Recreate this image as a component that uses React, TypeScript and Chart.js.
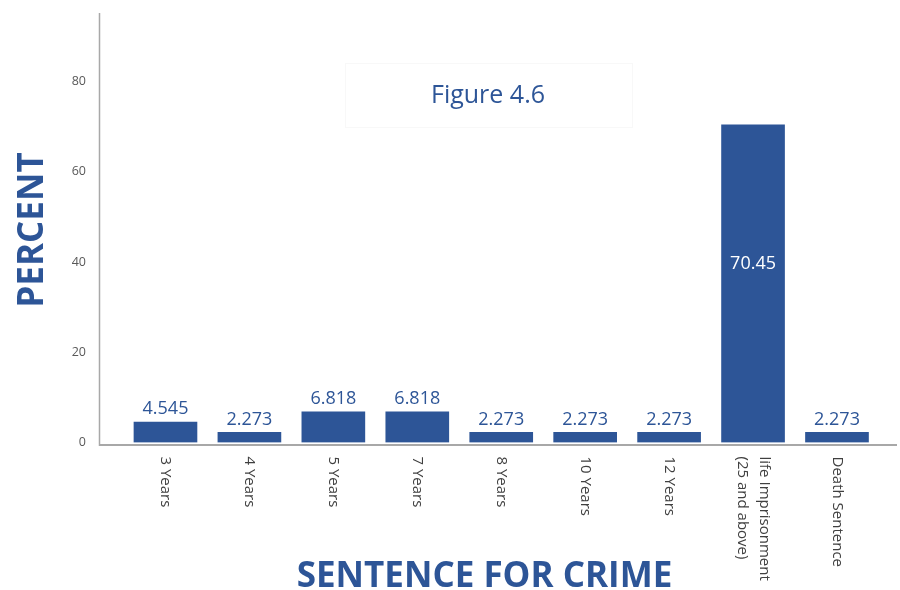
import React, { useEffect, useRef } from "react";
import { Chart, registerables } from "chart.js";

Chart.register(...registerables);

const CATEGORIES: (string | string[])[] = [
  "3 Years",
  "4 Years",
  "5 Years",
  "7 Years",
  "8 Years",
  "10 Years",
  "12 Years",
  ["life Imprisonment", "(25 and above)"],
  "Death Sentence",
];
const PERCENTS = [4.545, 2.273, 6.818, 6.818, 2.273, 2.273, 2.273, 70.45, 2.273];
const Y_TICKS = [0, 20, 40, 60, 80];
const TITLE = "Figure 4.6";
const X_TITLE = "SENTENCE FOR CRIME";
const Y_TITLE = "PERCENT";

const BLUE = "#2D5597";
const FONT = "'Open Sans', 'Noto Sans', sans-serif";

const decor = {
  id: "decor",
  afterDatasetsDraw(chart: any) {
    const { ctx, chartArea, scales } = chart;
    const { left, right, top, bottom } = chartArea;
    const x = scales.x;
    ctx.save();

    // axis lines
    ctx.strokeStyle = "#a8a8a8";
    ctx.lineWidth = 1.5;
    ctx.beginPath();
    ctx.moveTo(left - 0.5, top - 1);
    ctx.lineTo(left - 0.5, bottom + 3.5);
    ctx.stroke();
    ctx.lineWidth = 2;
    ctx.beginPath();
    ctx.moveTo(left - 1, bottom + 2.5);
    ctx.lineTo(right, bottom + 2.5);
    ctx.stroke();

    // category labels (rotated, reading top to bottom)
    ctx.fillStyle = "#404040";
    ctx.font = `15px ${FONT}`;
    ctx.textAlign = "left";
    ctx.textBaseline = "middle";
    CATEGORIES.forEach((c, i) => {
      const px = x.getPixelForValue(i);
      const lines = Array.isArray(c) ? c : [c];
      const lh = 22;
      ctx.save();
      ctx.translate(px, bottom + 14);
      ctx.rotate(Math.PI / 2);
      lines.forEach((ln, j) => {
        const off = (j - (lines.length - 1) / 2) * lh;
        ctx.fillText(ln, 0, off);
      });
      ctx.restore();
    });

    // value labels
    const meta = chart.getDatasetMeta(0);
    ctx.font = `18px ${FONT}`;
    ctx.textAlign = "center";
    ctx.textBaseline = "alphabetic";
    meta.data.forEach((bar: any, i: number) => {
      const v = PERCENTS[i];
      const txt = String(v);
      if (v > 20) {
        ctx.fillStyle = "#ffffff";
        ctx.fillText(txt, bar.x, (bar.y + bar.base) / 2 - 14.5);
      } else {
        ctx.fillStyle = BLUE;
        ctx.fillText(txt, bar.x, bar.y - 7.5);
      }
    });

    // title box + title
    ctx.fillStyle = "#ffffff";
    ctx.fillRect(345, 63, 287, 64);
    ctx.strokeStyle = "#f8f8f8";
    ctx.lineWidth = 1;
    ctx.strokeRect(345.5, 63.5, 287, 64);
    ctx.fillStyle = BLUE;
    ctx.font = `25px ${FONT}`;
    ctx.textAlign = "center";
    ctx.fillText(TITLE, 488, 103);

    // axis titles
    ctx.font = `bold 35px ${FONT}`;
    ctx.fillText(X_TITLE, 484.5, 587);
    ctx.save();
    ctx.translate(43, 230);
    ctx.rotate(-Math.PI / 2);
    ctx.fillText(Y_TITLE, 0, 0);
    ctx.restore();

    ctx.restore();
  },
};

export default function App() {
  const ref = useRef<HTMLCanvasElement | null>(null);
  useEffect(() => {
    if (!ref.current) return;
    const chart = new Chart(ref.current, {
      type: "bar",
      data: {
        datasets: [
          {
            data: PERCENTS.map((v, i) => ({ x: i, y: v })),
            backgroundColor: BLUE,
            borderWidth: 0,
            barThickness: 63,
          },
        ],
      },
      options: {
        animation: false,
        responsive: false,
        devicePixelRatio: 1,
        layout: { padding: { top: 14, right: 3, left: 0, bottom: 0 } },
        plugins: {
          legend: { display: false },
          tooltip: { enabled: false },
          title: { display: false },
        },
        scales: {
          x: {
            type: "linear",
            offset: false,
            min: -0.78,
            max: 8.715,
            grid: { display: false, drawTicks: false },
            border: { display: false },
            ticks: { display: false },
            afterFit: (s: any) => {
              s.height = 147.5;
              s.paddingLeft = 0;
              s.paddingRight = 0;
            },
          },
          y: {
            min: 0,
            max: 95,
            grid: { display: false, drawTicks: false },
            border: { display: false },
            ticks: {
              padding: 14,
              color: "#595959",
              font: { family: FONT, size: 12.5 },
            },
            afterBuildTicks: (s: any) => {
              s.ticks = Y_TICKS.map((v) => ({ value: v }));
            },
            afterFit: (s: any) => {
              s.width = 100;
              s.paddingTop = 0;
              s.paddingBottom = 0;
            },
          },
        },
      } as any,
      plugins: [decor],
    });
    return () => chart.destroy();
  }, []);
  return (
    <div style={{ position: "absolute", left: 0, top: 0, width: 900, height: 590, background: "#fff" }}>
      <canvas ref={ref} width={900} height={590} style={{ display: "block" }} />
    </div>
  );
}
